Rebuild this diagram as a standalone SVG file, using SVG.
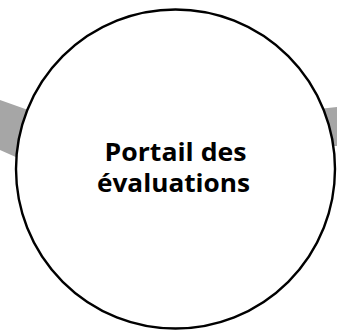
<svg xmlns="http://www.w3.org/2000/svg" width="337" height="331" viewBox="0 0 337 331">
<style>
.arrow{fill:#a6a6a6;stroke:none}
.node{fill:#ffffff;stroke:#000000;stroke-width:2.4}
.label{font-family:"Open Sans",Lato,"Liberation Sans",sans-serif;font-weight:bold;font-size:24.5px;fill:#000000;text-anchor:middle}
</style>
<rect width="337" height="331" fill="#ffffff"/>
<g id="connectors">
<polygon class="arrow" points="0,100 45,116 45,170 0,150"/>
<polygon class="arrow" points="300,111 337,107 337,146 300,146"/>
</g>
<g id="node-portail">
<circle class="node" cx="175.5" cy="169" r="159.5"/>
<text class="label" x="175.5" y="161.3" textLength="142" lengthAdjust="spacingAndGlyphs">Portail des</text>
<text class="label" x="173.5" y="192.3" textLength="153" lengthAdjust="spacingAndGlyphs">évaluations</text>
</g>
</svg>
